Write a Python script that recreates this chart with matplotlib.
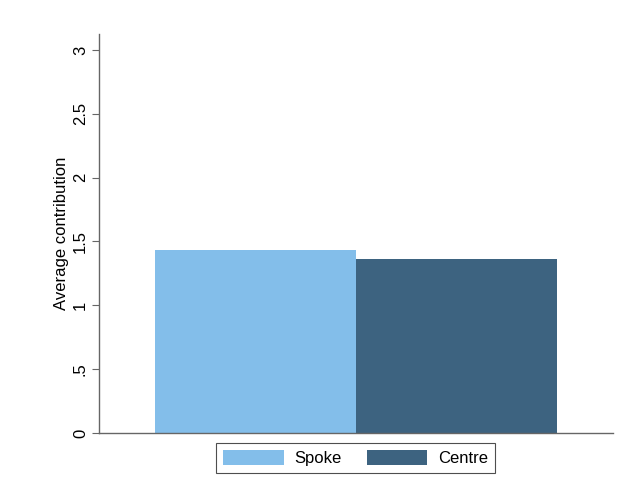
import numpy as np
import matplotlib.pyplot as plt
from matplotlib.patches import Patch

plt.rcParams['font.family'] = ['Liberation Sans', 'DejaVu Sans']

groups = ['Spoke', 'Centre']
values = [1.433, 1.36]
colors = ['#83BEEA', '#3D6380']
yticks = [0, 0.5, 1, 1.5, 2, 2.5, 3]
yticklabels = ['0', '.5', '1', '1.5', '2', '2.5', '3']

fig = plt.figure(figsize=(6.4, 4.9), dpi=100)
ax = fig.add_axes([99/640, 57/490, 514/640, (433-34)/490])

x = np.arange(len(groups))
ax.bar(x, values, width=1.0, color=colors, edgecolor='none')

ax.set_xlim(-0.7786, 1.7786)
ax.set_ylim(0, 3.125)
ax.set_yticks(yticks)
ax.set_yticklabels(yticklabels, rotation=90, va='center', fontsize=12)
ax.set_xticks([])
ax.set_ylabel('Average contribution', fontsize=12, labelpad=3)

for s in ['top', 'right']:
    ax.spines[s].set_visible(False)
for s in ['left', 'bottom']:
    ax.spines[s].set_color('#666666')
    ax.spines[s].set_linewidth(1.0)
ax.tick_params(axis='y', length=5, color='#666666', pad=3)

handles = [Patch(facecolor=c, edgecolor='none') for c in colors]
leg = fig.legend(handles, groups, loc='center', bbox_to_anchor=(355.5/640, 1-458/490),
                 ncol=2, frameon=True, fancybox=False, fontsize=12,
                 handlelength=3.65, handleheight=1.0, handletextpad=0.65,
                 columnspacing=1.5, borderpad=0.4)
leg.get_frame().set_edgecolor('#222222')
leg.get_frame().set_linewidth(0.8)

plt.savefig('out.png', dpi=100)
